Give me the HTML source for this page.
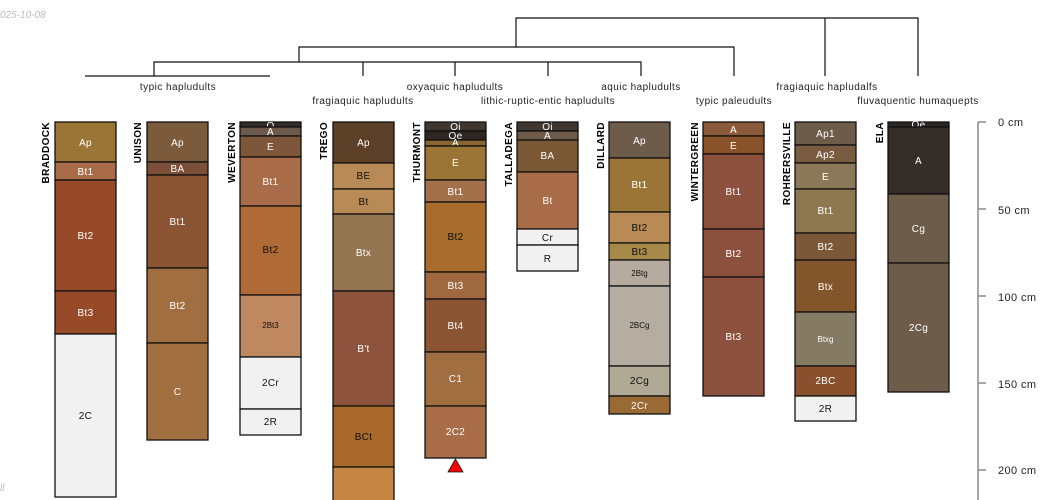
<!DOCTYPE html>
<html><head><meta charset="utf-8"><style>
html,body{margin:0;padding:0;background:#fff;}
svg{display:block;font-family:"Liberation Sans",sans-serif;}
.h{stroke:#111;stroke-width:1.3;}
.w{fill:#fff;font-size:10px;text-anchor:middle;letter-spacing:0.3px;}
.d{fill:#111;font-size:10px;text-anchor:middle;letter-spacing:0.3px;}
.s{font-size:8px;letter-spacing:0;}
.n{font-size:10px;font-weight:bold;text-anchor:end;fill:#000;letter-spacing:0.4px;}
.l{font-size:10px;fill:#222;text-anchor:middle;letter-spacing:0.45px;}
.dl{stroke:#111;stroke-width:1.2;fill:none;}
</style></head><body>
<svg width="1050" height="500" viewBox="0 0 1050 500" xmlns="http://www.w3.org/2000/svg">
<text x="0" y="18" fill="#bbb" font-size="10" font-style="italic">025-10-08</text>
<text x="0" y="491" fill="#bbb" font-size="10" font-style="italic">ll</text>
<!-- dendrogram -->
<path class="dl" d="M516 47V18H918V76M825 18V76M299 62V47H734V76M154 76V62H641V76M363 62V76M455 62V76M548 62V76M85 76H270"/>
<text class="l" x="178" y="90">typic hapludults</text>
<text class="l" x="455" y="90">oxyaquic hapludults</text>
<text class="l" x="641" y="90">aquic hapludults</text>
<text class="l" x="827" y="90">fragiaquic hapludalfs</text>
<text class="l" x="363" y="104">fragiaquic hapludults</text>
<text class="l" x="548" y="104">lithic-ruptic-entic hapludults</text>
<text class="l" x="734" y="104">typic paleudults</text>
<text class="l" x="918" y="104">fluvaquentic humaquepts</text>

<!-- BRADDOCK -->
<g transform="translate(55,0)">
<rect class="h" x="0" y="122" width="61" height="40" fill="#9b7535"/><text class="w" x="30.5" y="146">Ap</text>
<rect class="h" x="0" y="162" width="61" height="18" fill="#a86d48"/><text class="w" x="30.5" y="175">Bt1</text>
<rect class="h" x="0" y="180" width="61" height="111" fill="#974a28"/><text class="w" x="30.5" y="239">Bt2</text>
<rect class="h" x="0" y="291" width="61" height="43" fill="#974a28"/><text class="w" x="30.5" y="316">Bt3</text>
<rect class="h" x="0" y="334" width="61" height="163" fill="#f1f1f1"/><text class="d" x="30.5" y="419">2C</text>
<text class="n" transform="translate(-6,122) rotate(-90)">BRADDOCK</text>
</g>
<!-- UNISON -->
<g transform="translate(147,0)">
<rect class="h" x="0" y="122" width="61" height="40" fill="#7c5a3c"/><text class="w" x="30.5" y="146">Ap</text>
<rect class="h" x="0" y="162" width="61" height="13" fill="#7c5038"/><text class="w" x="30.5" y="172">BA</text>
<rect class="h" x="0" y="175" width="61" height="93" fill="#8b5533"/><text class="w" x="30.5" y="225">Bt1</text>
<rect class="h" x="0" y="268" width="61" height="75" fill="#a06e40"/><text class="w" x="30.5" y="309">Bt2</text>
<rect class="h" x="0" y="343" width="61" height="97" fill="#a27040"/><text class="w" x="30.5" y="395">C</text>
<text class="n" transform="translate(-6,122) rotate(-90)">UNISON</text>
</g>
<!-- WEVERTON -->
<g transform="translate(240,0)">
<rect class="h" x="0" y="122" width="61" height="5" fill="#332c28"/><text class="w" x="30.5" y="129">O</text>
<rect class="h" x="0" y="127" width="61" height="9" fill="#6e5a4a"/><text class="w" x="30.5" y="135">A</text>
<rect class="h" x="0" y="136" width="61" height="21" fill="#7e573a"/><text class="w" x="30.5" y="150">E</text>
<rect class="h" x="0" y="157" width="61" height="49" fill="#a86d48"/><text class="w" x="30.5" y="185">Bt1</text>
<rect class="h" x="0" y="206" width="61" height="89" fill="#b06a35"/><text class="d" x="30.5" y="253">Bt2</text>
<rect class="h" x="0" y="295" width="61" height="62" fill="#c08860"/><text class="d s" x="30.5" y="328">2Bt3</text>
<rect class="h" x="0" y="357" width="61" height="52" fill="#f1f1f1"/><text class="d" x="30.5" y="386">2Cr</text>
<rect class="h" x="0" y="409" width="61" height="26" fill="#f1f1f1"/><text class="d" x="30.5" y="425">2R</text>
<text class="n" transform="translate(-5,122) rotate(-90)">WEVERTON</text>
</g>
<!-- TREGO -->
<g transform="translate(333,0)">
<rect class="h" x="0" y="122" width="61" height="41" fill="#5c4028"/><text class="w" x="30.5" y="146">Ap</text>
<rect class="h" x="0" y="163" width="61" height="26" fill="#b88a55"/><text class="d" x="30.5" y="179">BE</text>
<rect class="h" x="0" y="189" width="61" height="25" fill="#b88a55"/><text class="d" x="30.5" y="205">Bt</text>
<rect class="h" x="0" y="214" width="61" height="77" fill="#937552"/><text class="w" x="30.5" y="256">Btx</text>
<rect class="h" x="0" y="291" width="61" height="115" fill="#8e533c"/><text class="w" x="30.5" y="352">B't</text>
<rect class="h" x="0" y="406" width="61" height="61" fill="#a8692a"/><text class="d" x="30.5" y="440">BCt</text>
<rect class="h" x="0" y="467" width="61" height="40" fill="#c68643"/>
<text class="n" transform="translate(-6,122) rotate(-90)">TREGO</text>
</g>
<!-- THURMONT -->
<g transform="translate(425,0)">
<rect class="h" x="0" y="122" width="61" height="9" fill="#3f3731"/><text class="w" x="30.5" y="130">Oi</text>
<rect class="h" x="0" y="131" width="61" height="9" fill="#2d2723"/><text class="w" x="30.5" y="139">Oe</text>
<rect class="h" x="0" y="140" width="61" height="6" fill="#8a6533"/><text class="w" x="30.5" y="146">A</text>
<rect class="h" x="0" y="146" width="61" height="34" fill="#9b7535"/><text class="w" x="30.5" y="166">E</text>
<rect class="h" x="0" y="180" width="61" height="22" fill="#a3704a"/><text class="w" x="30.5" y="195">Bt1</text>
<rect class="h" x="0" y="202" width="61" height="70" fill="#a86c2c"/><text class="d" x="30.5" y="240">Bt2</text>
<rect class="h" x="0" y="272" width="61" height="27" fill="#a0683e"/><text class="w" x="30.5" y="289">Bt3</text>
<rect class="h" x="0" y="299" width="61" height="53" fill="#8b5533"/><text class="w" x="30.5" y="329">Bt4</text>
<rect class="h" x="0" y="352" width="61" height="54" fill="#a06e40"/><text class="w" x="30.5" y="382">C1</text>
<rect class="h" x="0" y="406" width="61" height="52" fill="#a86d48"/><text class="w" x="30.5" y="435">2C2</text>
<polygon points="30.5,459 23,472 38,472" fill="#f00" stroke="#111" stroke-width="0.8"/>
<text class="n" transform="translate(-5,122) rotate(-90)">THURMONT</text>
</g>
<!-- TALLADEGA -->
<g transform="translate(517,0)">
<rect class="h" x="0" y="122" width="61" height="9" fill="#3f3731"/><text class="w" x="30.5" y="130">Oi</text>
<rect class="h" x="0" y="131" width="61" height="9" fill="#6e5a4a"/><text class="w" x="30.5" y="139">A</text>
<rect class="h" x="0" y="140" width="61" height="32" fill="#7a5835"/><text class="w" x="30.5" y="159">BA</text>
<rect class="h" x="0" y="172" width="61" height="57" fill="#a86d48"/><text class="w" x="30.5" y="204">Bt</text>
<rect class="h" x="0" y="229" width="61" height="16" fill="#f1f1f1"/><text class="d" x="30.5" y="241">Cr</text>
<rect class="h" x="0" y="245" width="61" height="26" fill="#f1f1f1"/><text class="d" x="30.5" y="262">R</text>
<text class="n" transform="translate(-5,122) rotate(-90)">TALLADEGA</text>
</g>
<!-- DILLARD -->
<g transform="translate(609,0)">
<rect class="h" x="0" y="122" width="61" height="36" fill="#6e5c4a"/><text class="w" x="30.5" y="144">Ap</text>
<rect class="h" x="0" y="158" width="61" height="54" fill="#9b7535"/><text class="w" x="30.5" y="188">Bt1</text>
<rect class="h" x="0" y="212" width="61" height="31" fill="#b88a55"/><text class="d" x="30.5" y="231">Bt2</text>
<rect class="h" x="0" y="243" width="61" height="17" fill="#a88a48"/><text class="d" x="30.5" y="255">Bt3</text>
<rect class="h" x="0" y="260" width="61" height="26" fill="#b5ab9f"/><text class="d s" x="30.5" y="276">2Btg</text>
<rect class="h" x="0" y="286" width="61" height="80" fill="#b5ada0"/><text class="d s" x="30.5" y="328">2BCg</text>
<rect class="h" x="0" y="366" width="61" height="30" fill="#b0a996"/><text class="d" x="30.5" y="384">2Cg</text>
<rect class="h" x="0" y="396" width="61" height="18" fill="#9a6a35"/><text class="w" x="30.5" y="409">2Cr</text>
<text class="n" transform="translate(-5,122) rotate(-90)">DILLARD</text>
</g>
<!-- WINTERGREEN -->
<g transform="translate(703,0)">
<rect class="h" x="0" y="122" width="61" height="14" fill="#8a5a3a"/><text class="w" x="30.5" y="133">A</text>
<rect class="h" x="0" y="136" width="61" height="18" fill="#8a5228"/><text class="w" x="30.5" y="149">E</text>
<rect class="h" x="0" y="154" width="61" height="75" fill="#8b513c"/><text class="w" x="30.5" y="195">Bt1</text>
<rect class="h" x="0" y="229" width="61" height="48" fill="#8b513c"/><text class="w" x="30.5" y="257">Bt2</text>
<rect class="h" x="0" y="277" width="61" height="119" fill="#8b513c"/><text class="w" x="30.5" y="340">Bt3</text>
<text class="n" transform="translate(-5,122) rotate(-90)">WINTERGREEN</text>
</g>
<!-- ROHRERSVILLE -->
<g transform="translate(795,0)">
<rect class="h" x="0" y="122" width="61" height="23" fill="#6e5c4a"/><text class="w" x="30.5" y="137">Ap1</text>
<rect class="h" x="0" y="145" width="61" height="18" fill="#7a5c40"/><text class="w" x="30.5" y="158">Ap2</text>
<rect class="h" x="0" y="163" width="61" height="26" fill="#8a7858"/><text class="w" x="30.5" y="180">E</text>
<rect class="h" x="0" y="189" width="61" height="44" fill="#8e7850"/><text class="w" x="30.5" y="214">Bt1</text>
<rect class="h" x="0" y="233" width="61" height="27" fill="#7a5838"/><text class="w" x="30.5" y="250">Bt2</text>
<rect class="h" x="0" y="260" width="61" height="52" fill="#82562a"/><text class="w" x="30.5" y="290">Btx</text>
<rect class="h" x="0" y="312" width="61" height="54" fill="#857a64"/><text class="w s" x="30.5" y="342">Btxg</text>
<rect class="h" x="0" y="366" width="61" height="30" fill="#8a4f2d"/><text class="w" x="30.5" y="384">2BC</text>
<rect class="h" x="0" y="396" width="61" height="25" fill="#f1f1f1"/><text class="d" x="30.5" y="412">2R</text>
<text class="n" transform="translate(-5,122) rotate(-90)">ROHRERSVILLE</text>
</g>
<!-- ELA -->
<g transform="translate(888,0)">
<rect class="h" x="0" y="122" width="61" height="5" fill="#2d2723"/><text class="w" x="30.5" y="128">Oe</text>
<rect class="h" x="0" y="127" width="61" height="67" fill="#352d28"/><text class="w" x="30.5" y="164">A</text>
<rect class="h" x="0" y="194" width="61" height="69" fill="#6e5c4a"/><text class="w" x="30.5" y="232">Cg</text>
<rect class="h" x="0" y="263" width="61" height="129" fill="#6e5c4a"/><text class="w" x="30.5" y="331">2Cg</text>
<text class="n" transform="translate(-5,122) rotate(-90)">ELA</text>
</g>
<!-- axis -->
<path d="M978 122V500M978 122H986M978 209H986M978 296H986M978 383H986M978 470H986" stroke="#888" stroke-width="1.5" fill="none"/>
<g font-size="11" fill="#222" letter-spacing="0.4">
<text x="998" y="126">0 cm</text>
<text x="998" y="214">50 cm</text>
<text x="998" y="301">100 cm</text>
<text x="998" y="388">150 cm</text>
<text x="998" y="474">200 cm</text>
</g>
</svg>
</body></html>
